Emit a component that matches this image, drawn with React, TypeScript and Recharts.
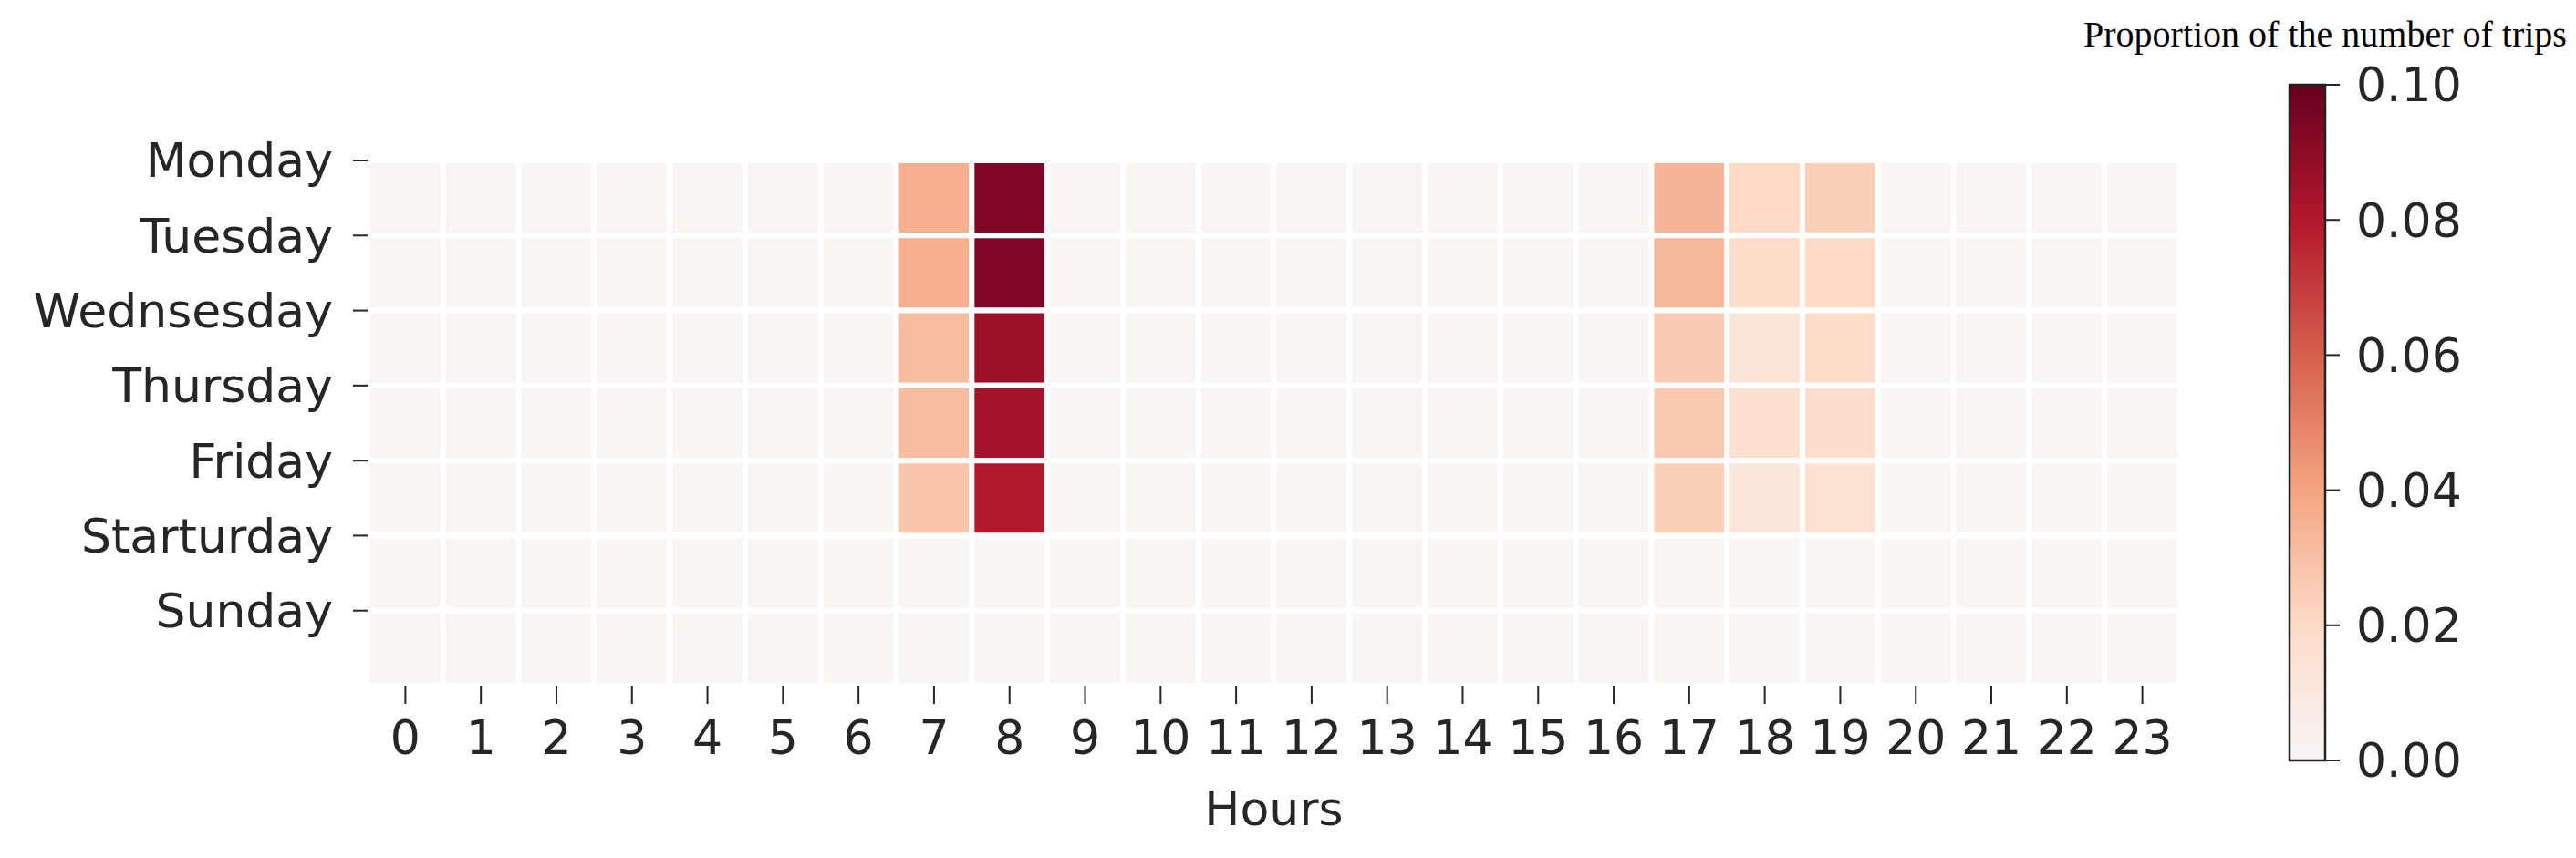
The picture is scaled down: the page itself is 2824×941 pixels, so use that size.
import React from "react";
import { BarChart, Bar, XAxis, YAxis, Cell } from "recharts";

// hour of day categories (x axis)
const hours = [
  "0", "1", "2", "3", "4", "5", "6", "7", "8", "9", "10", "11",
  "12", "13", "14", "15", "16", "17", "18", "19", "20", "21", "22", "23",
];

// day labels as written in the original figure
const days = ["Monday", "Tuesday", "Wednsesday", "Thursday", "Friday", "Starturday", "Sunday"];

// proportion of trips per hour, one list per row
const monday = [0, 0, 0, 0, 0, 0, 0, 0.036, 0.094, 0, 0, 0, 0, 0, 0, 0, 0, 0.034, 0.02, 0.024, 0, 0, 0, 0];
const tuesday = [0, 0, 0, 0, 0, 0, 0, 0.036, 0.094, 0, 0, 0, 0, 0, 0, 0, 0, 0.033, 0.019, 0.02, 0, 0, 0, 0];
const wednesday = [0, 0, 0, 0, 0, 0, 0, 0.031, 0.086, 0, 0, 0, 0, 0, 0, 0, 0, 0.026, 0.014, 0.019, 0, 0, 0, 0];
const thursday = [0, 0, 0, 0, 0, 0, 0, 0.031, 0.084, 0, 0, 0, 0, 0, 0, 0, 0, 0.027, 0.016, 0.018, 0, 0, 0, 0];
const friday = [0, 0, 0, 0, 0, 0, 0, 0.028, 0.08, 0, 0, 0, 0, 0, 0, 0, 0, 0.024, 0.011, 0.015, 0, 0, 0, 0];
const saturday = [0, 0, 0, 0, 0, 0, 0, 0, 0, 0, 0, 0, 0, 0, 0, 0, 0, 0, 0, 0, 0, 0, 0, 0];
const sunday = [0, 0, 0, 0, 0, 0, 0, 0, 0, 0, 0, 0, 0, 0, 0, 0, 0, 0, 0, 0, 0, 0, 0, 0];
const tripShare = [monday, tuesday, wednesday, thursday, friday, saturday, sunday];

// colour bar ticks
const colorTicks = [0, 0.02, 0.04, 0.06, 0.08, 0.1];
const colorStops = ["#f7f6f5", "#fddbc7", "#f4a582", "#d6604d", "#b2182b", "#67001f"];

const TEXT = "#262626";
const FONT = "DejaVu Sans";

const hexToRgb = (hex: string) => [
  parseInt(hex.slice(1, 3), 16),
  parseInt(hex.slice(3, 5), 16),
  parseInt(hex.slice(5, 7), 16),
];

function heat(v: number) {
  const max = colorTicks[colorTicks.length - 1];
  const t = Math.max(0, Math.min(max, v));
  let i = 0;
  while (i < colorTicks.length - 2 && t > colorTicks[i + 1]) i++;
  const f = (t - colorTicks[i]) / (colorTicks[i + 1] - colorTicks[i]);
  const a = hexToRgb(colorStops[i]);
  const b = hexToRgb(colorStops[i + 1]);
  const c = a.map((x, k) => Math.round(x + (b[k] - x) * f));
  return `rgb(${c[0]},${c[1]},${c[2]})`;
}

// each hour is a column, each day a unit-height stacked block
const rows = hours.map((h) => {
  const r: Record<string, string | number> = { hour: h };
  days.forEach((_, di) => (r[`d${di}`] = 1));
  return r;
});

const tickStyle = { fontSize: 52, fill: TEXT, fontFamily: FONT };

export default function App() {
  return (
    <div style={{ position: "absolute", left: 0, top: 0, width: 2824, height: 941, background: "#fff" }}>
      <div style={{ position: "absolute", left: 0, top: 0 }}>
        <BarChart
          width={2440}
          height={941}
          data={rows}
          margin={{ top: 176, right: 50, bottom: 39, left: 0 }}
          barCategoryGap={0}
          barGap={0}
        >
          <XAxis
            dataKey="hour"
            type="category"
            height={150}
            interval={0}
            tickSize={20}
            tickMargin={18}
            axisLine={false}
            tickLine={{ stroke: TEXT, strokeWidth: 2 }}
            tick={tickStyle}
            label={{ value: "Hours", position: "insideBottom", offset: -3, fontSize: 52, fill: TEXT, fontFamily: FONT }}
          />
          <YAxis
            type="number"
            domain={[0, 7]}
            reversed
            allowDataOverflow
            ticks={[0, 1, 2, 3, 4, 5, 6]}
            interval={0}
            tickFormatter={(v: number) => days[v]}
            width={403}
            tickSize={16}
            tickMargin={22}
            axisLine={false}
            tickLine={{ stroke: TEXT, strokeWidth: 2 }}
            tick={tickStyle}
          />
          {days.map((d, di) => (
            <Bar key={d} dataKey={`d${di}`} stackId="grid" stroke="#fff" strokeWidth={6} isAnimationActive={false}>
              {hours.map((h, hi) => (
                <Cell key={h} fill={heat(tripShare[di][hi])} />
              ))}
            </Bar>
          ))}
        </BarChart>
      </div>

      <div style={{ position: "absolute", left: 2500, top: 0 }}>
        <BarChart
          width={324}
          height={941}
          data={[{ name: "bar", v: colorTicks[colorTicks.length - 1] }]}
          margin={{ top: 93, right: 75, bottom: 107, left: 10 }}
          barCategoryGap={0}
        >
          <defs>
            <linearGradient id="cbar" x1="0" y1="1" x2="0" y2="0">
              {colorTicks.map((t, i) => (
                <stop key={t} offset={t / colorTicks[colorTicks.length - 1]} stopColor={colorStops[i]} />
              ))}
            </linearGradient>
          </defs>
          <XAxis dataKey="name" hide />
          <YAxis
            orientation="right"
            type="number"
            domain={[0, 0.1]}
            ticks={colorTicks}
            interval={0}
            width={200}
            tickSize={16}
            tickMargin={18}
            axisLine={false}
            tickLine={{ stroke: TEXT, strokeWidth: 2 }}
            tickFormatter={(v: number) => v.toFixed(2)}
            tick={tickStyle}
          />
          <Bar dataKey="v" fill="url(#cbar)" stroke="#222" strokeWidth={2.5} isAnimationActive={false} />
        </BarChart>
      </div>

      <div
        style={{
          position: "absolute",
          left: 2284,
          top: 18,
          fontFamily: "Liberation Serif",
          fontSize: 40,
          lineHeight: "40px",
          color: "#000",
          whiteSpace: "nowrap",
        }}
      >
        Proportion of the number of trips
      </div>
    </div>
  );
}
